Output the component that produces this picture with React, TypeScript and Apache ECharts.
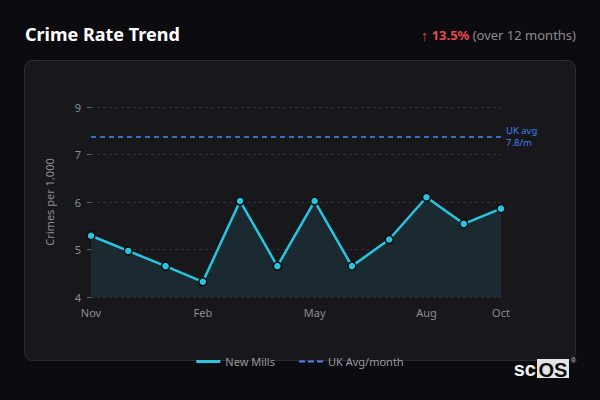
import { useEffect, useRef } from 'react'
import * as echarts from 'echarts'

// months shown along the x axis
const months = ['Nov', 'Dec', 'Jan', 'Feb', 'Mar', 'Apr', 'May', 'Jun', 'Jul', 'Aug', 'Sep', 'Oct']
// crimes per 1,000 residents, New Mills
const newMills = [5.29, 4.97, 4.65, 4.32, 6.02, 4.65, 6.02, 4.65, 5.21, 6.1, 5.54, 5.86]
// UK average line, as placed on the axis
const ukAvgLevel = 7.37
const ukAvgLabel = 'UK avg\n7.8/m'
// x labels that are shown
const shownMonths = ['Nov', 'Feb', 'May', 'Aug', 'Oct']
// y tick labels (the top tick reads 9)
const yTickLabels: Record<number, string> = { 4: '4', 5: '5', 6: '6', 7: '7', 8: '9' }

const FONT = '"Noto Sans", sans-serif'
const LOGO_FONT = '"Liberation Sans", sans-serif'

const App = () => {
  const chartRef = useRef<HTMLDivElement | null>(null)

  useEffect(() => {
    if (!chartRef.current) return
    const chart = echarts.init(chartRef.current, null, { renderer: 'svg' })

    const option = {
      animation: false,
      backgroundColor: '#0c0b10',
      textStyle: { fontFamily: FONT },
      graphic: [
        {
          type: 'rect',
          z: -100,
          shape: { x: 24.5, y: 60.5, width: 551, height: 300, r: 8 },
          style: { fill: '#18181c', stroke: '#2c2c31', lineWidth: 1 }
        },
        {
          type: 'text',
          x: 25,
          y: 43,
          style: {
            text: 'Crime Rate Trend',
            fill: '#ffffff',
            font: `bold 18px ${FONT}`,
            textVerticalAlign: 'bottom'
          }
        },
        {
          type: 'text',
          x: 576,
          y: 42,
          style: {
            text: '{arrow|↑} {up|13.5%} {gray|(over 12 months)}',
            align: 'right',
            verticalAlign: 'bottom',
            rich: {
              arrow: { fill: '#d93c40', fontSize: 15, fontFamily: FONT },
              up: { fill: '#e5484d', fontWeight: 'bold', fontSize: 13, fontFamily: FONT },
              gray: { fill: '#8b8b93', fontSize: 13, fontFamily: FONT }
            }
          }
        },
        {
          type: 'text',
          x: 536,
          y: 379,
          style: {
            text: 'sc',
            fill: '#f2f2f2',
            font: `bold 20px ${LOGO_FONT}`,
            textAlign: 'right',
            textVerticalAlign: 'bottom'
          }
        },
        {
          type: 'rect',
          shape: { x: 537, y: 359, width: 32, height: 19 },
          style: { fill: '#e4e4e4' }
        },
        {
          type: 'text',
          x: 553,
          y: 380,
          style: {
            text: 'OS',
            fill: '#0c0b10',
            font: `bold 20px ${LOGO_FONT}`,
            textAlign: 'center',
            textVerticalAlign: 'bottom'
          }
        },
        {
          type: 'text',
          x: 571,
          y: 357,
          style: {
            text: '®',
            fill: '#cfcfcf',
            font: `7px ${LOGO_FONT}`
          }
        }
      ],
      legend: {
        left: 'center',
        top: 351,
        itemWidth: 24,
        itemHeight: 3,
        itemGap: 24,
        textStyle: { color: '#9a9aa2', fontSize: 11, fontFamily: FONT },
        data: [
          {
            name: 'New Mills',
            icon: 'path://M0,0h24v3h-24z',
            itemStyle: { color: '#27c6e0', borderWidth: 0 }
          },
          {
            name: 'UK Avg/month',
            icon: 'path://M0,0.5h6v2h-6z M9,0.5h6v2h-6z M18,0.5h6v2h-6z M0,0h0.01v3h-0.01z',
            itemStyle: { color: '#4a88ee', borderWidth: 0 }
          }
        ]
      },
      grid: { left: 91, right: 99, top: 107, bottom: 103 },
      xAxis: {
        type: 'category',
        data: months,
        boundaryGap: false,
        axisLine: { show: false },
        axisTick: { show: false },
        axisLabel: {
          color: '#8c8c94',
          fontSize: 11,
          margin: 10,
          interval: (i: number) => shownMonths.includes(months[i])
        },
        splitLine: { show: false }
      },
      yAxis: {
        type: 'value',
        min: 4,
        max: 8,
        interval: 1,
        name: 'Crimes per 1,000',
        nameLocation: 'middle',
        nameGap: 36,
        nameTextStyle: { color: '#8c8c94', fontSize: 11 },
        axisLine: { show: false },
        axisTick: { show: true, length: 4, lineStyle: { color: '#6a6a72' } },
        axisLabel: {
          color: '#8c8c94',
          fontSize: 11,
          margin: 10,
          formatter: (v: number) => yTickLabels[v] ?? ''
        },
        splitLine: { show: true, lineStyle: { color: '#303036', type: [3, 3], width: 1 } }
      },
      series: [
        {
          name: 'New Mills',
          type: 'line',
          data: newMills,
          color: '#27c6e0',
          lineStyle: { width: 2.5, color: '#27c6e0' },
          symbol: 'circle',
          symbolSize: 8,
          itemStyle: { color: '#27c6e0', borderColor: '#0c0b10', borderWidth: 1.5 },
          areaStyle: { color: '#1a2a30', opacity: 1 },
          z: 3
        },
        {
          name: 'UK Avg/month',
          type: 'line',
          data: months.map(() => ukAvgLevel),
          color: '#4a88ee',
          symbol: 'none',
          lineStyle: { width: 1.5, type: [5, 4], color: '#4a88ee' },
          endLabel: {
            show: true,
            formatter: () => ukAvgLabel,
            color: '#3f7fe6',
            fontSize: 9.5,
            lineHeight: 12,
            distance: 5
          },
          z: 2
        }
      ]
    }

    chart.setOption(option)
    return () => chart.dispose()
  }, [])

  return (
    <div style={{ position: 'fixed', left: 0, top: 0, width: 600, height: 400 }}>
      <div ref={chartRef} style={{ width: 600, height: 400 }} />
    </div>
  )
}

export default App
